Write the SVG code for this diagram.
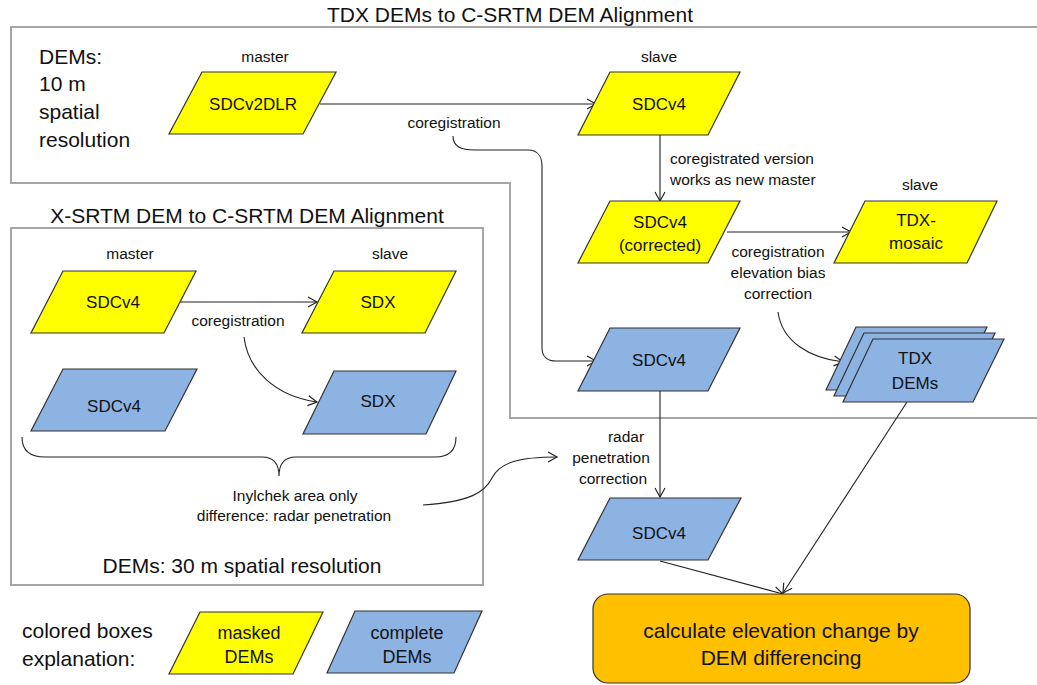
<svg xmlns="http://www.w3.org/2000/svg" width="1037" height="685" viewBox="0 0 1037 685">
<defs>
<marker id="arr" markerUnits="userSpaceOnUse" markerWidth="12" markerHeight="12" refX="10" refY="6" orient="auto">
<path d="M1,1 L10,6 L1,11" fill="none" stroke="#222" stroke-width="1.2"/>
</marker>
<style>
text{font-family:"Liberation Sans",Arial,sans-serif;fill:#111;}
.title{font-size:21px;text-anchor:middle;}
.big{font-size:21px;}
.lbl{font-size:15.5px;text-anchor:middle;}
.lbll{font-size:15.5px;}
.box{font-size:17px;text-anchor:middle;}
.leg{font-size:18px;text-anchor:middle;}
.y{fill:#FFFF00;stroke:#333;stroke-width:1.2;}
.b{fill:#8DB3E2;stroke:#333;stroke-width:1.2;}
.frame{fill:none;stroke:#A6A6A6;stroke-width:2;}
.con{fill:none;stroke:#222;stroke-width:1.1;}
.arr{marker-end:url(#arr);}
</style>
</defs>
<rect width="1037" height="685" fill="#fff"/>

<g id="frames">
<polyline class="frame" points="1037,27 11,27 11,183 510,183 510,418 1037,418"/>
<rect class="frame" x="11" y="228" width="472" height="357"/>
</g>

<g id="texts">
<text class="title" x="510" y="22">TDX DEMs to C-SRTM DEM Alignment</text>
<text class="title" x="247" y="223">X-SRTM DEM to C-SRTM DEM Alignment</text>
<text class="big" x="39" y="64">DEMs:</text>
<text class="big" x="39" y="91">10 m</text>
<text class="big" x="39" y="119">spatial</text>
<text class="big" x="39" y="147">resolution</text>
<text class="big" x="242" y="573" text-anchor="middle">DEMs: 30 m spatial resolution</text>
<text class="big" x="22" y="638">colored boxes</text>
<text class="big" x="22" y="666">explanation:</text>
<text class="lbl" x="265" y="62">master</text>
<text class="lbl" x="659" y="62">slave</text>
<text class="lbl" x="454" y="128">coregistration</text>
<text class="lbll" x="670" y="164">coregistrated version</text>
<text class="lbll" x="670" y="185">works as new master</text>
<text class="lbl" x="920" y="190">slave</text>
<text class="lbl" x="778" y="257">coregistration</text>
<text class="lbl" x="778" y="278">elevation bias</text>
<text class="lbl" x="778" y="299">correction</text>
<text class="lbl" x="130" y="259">master</text>
<text class="lbl" x="390" y="259">slave</text>
<text class="lbl" x="238" y="326">coregistration</text>
<text class="lbl" x="295" y="501">Inylchek area only</text>
<text class="lbl" x="294" y="521">difference: radar penetration</text>
<text class="lbl" x="626" y="442">radar</text>
<text class="lbl" x="611" y="463">penetration</text>
<text class="lbl" x="613" y="484">correction</text>
</g>

<g id="connectors">
<line class="con arr" x1="320" y1="104" x2="596" y2="104"/>
<path class="con arr" d="M453,136 C453,146 460,150 475,150 L528,150 C537,150 542,156 542,166 L542,348 C542,356 547,361 556,361 L596,361"/>
<line class="con arr" x1="660" y1="135" x2="660" y2="201"/>
<line class="con arr" x1="727" y1="232" x2="851" y2="232"/>
<path class="con arr" d="M778,312 C782,342 810,358 843,362"/>
<line class="con arr" x1="660" y1="391" x2="660" y2="497"/>
<path class="con arr" d="M423,505 C470,502 485,492 492,478 C500,462 520,457 557,457"/>
<line class="con arr" x1="660" y1="561" x2="783" y2="594"/>
<line class="con arr" x1="907" y1="402" x2="783" y2="593"/>
<line class="con arr" x1="180" y1="302" x2="317" y2="302"/>
<path class="con arr" d="M244,337 C248,370 275,396 317,402"/>
<path class="con" d="M22,437 C22,450 30,457 45,457 L262,457 C272,457 279,462 279,476 C279,462 286,457 296,457 L435,457 C450,457 456,450 456,437"/>
</g>

<g id="n-sdcv2dlr"><polygon class="y" points="202,72 336,72 303,134 169,134"/><text class="box" x="253" y="110">SDCv2DLR</text></g>
<g id="n-sdcv4-slave"><polygon class="y" points="610,72 740,72 708,135 578,135"/><text class="box" x="659" y="110">SDCv4</text></g>
<g id="n-sdcv4-corrected"><polygon class="y" points="610,201 740,201 708,263 578,263"/><text class="box" x="660" y="228">SDCv4</text><text class="box" x="660" y="251">(corrected)</text></g>
<g id="n-tdx-mosaic"><polygon class="y" points="865,201 997,201 967,263 834,263"/><text class="box" x="916" y="226">TDX-</text><text class="box" x="916" y="249">mosaic</text></g>
<g id="n-sdcv4-complete"><polygon class="b" points="610,328 740,328 708,391 578,391"/><text class="box" x="659" y="366">SDCv4</text></g>
<g id="n-tdx-dems">
<polygon class="b" points="856,327 987,327 957,390 826,390"/>
<polygon class="b" points="864,333 995,333 965,396 834,396"/>
<polygon class="b" points="873,339 1004,339 973,402 843,402"/>
<text class="box" x="915" y="364">TDX</text><text class="box" x="915" y="389">DEMs</text></g>
<g id="n-sdcv4-penetration"><polygon class="b" points="610,498 741,498 708,560 578,560"/><text class="box" x="659" y="539">SDCv4</text></g>
<g id="n-elevation-change"><rect x="593" y="594" width="377" height="89" rx="15" fill="#FFC000" stroke="#333" stroke-width="1.2"/>
<text class="big" x="781" y="638" text-anchor="middle">calculate elevation change by</text>
<text class="big" x="781" y="665" text-anchor="middle">DEM differencing</text></g>
<g id="n-x-sdcv4-y"><polygon class="y" points="63,271 196,271 164,333 31,333"/><text class="box" x="113" y="308">SDCv4</text></g>
<g id="n-x-sdx-y"><polygon class="y" points="334,271 456,271 425,333 302,333"/><text class="box" x="378" y="308">SDX</text></g>
<g id="n-x-sdcv4-b"><polygon class="b" points="63,369 197,369 165,431 31,431"/><text class="box" x="114" y="412">SDCv4</text></g>
<g id="n-x-sdx-b"><polygon class="b" points="334,371 456,371 426,434 303,434"/><text class="box" x="378" y="407">SDX</text></g>
<g id="legend-masked"><polygon class="y" points="200,612 323,612 293,674 169,674"/><text class="leg" x="249" y="639">masked</text><text class="leg" x="249" y="663">DEMs</text></g>
<g id="legend-complete"><polygon class="b" points="355,611 482,611 454,673 327,673"/><text class="leg" x="407" y="639">complete</text><text class="leg" x="407" y="663">DEMs</text></g>
</svg>
